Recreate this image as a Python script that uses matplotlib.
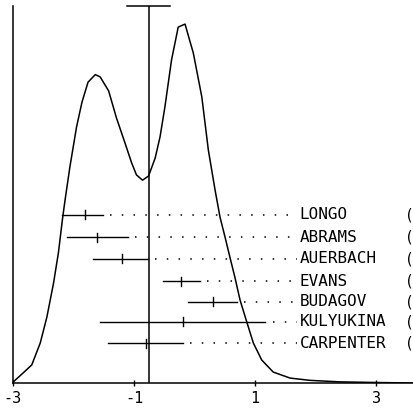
import matplotlib
matplotlib.use("Agg")
import matplotlib.pyplot as plt

# density curve
curve_x = [-2.995, -2.83, -2.69, -2.55, -2.44, -2.33, -2.25, -2.18, -2.14, -2.06, -1.95,
           -1.86, -1.76, -1.64, -1.56, -1.42, -1.29, -1.15, -1.04, -0.96, -0.86, -0.76,
           -0.65, -0.57, -0.49, -0.38, -0.27, -0.157, -0.02, 0.12, 0.228, 0.339, 0.421,
           0.504, 0.587, 0.669, 0.752, 0.863, 0.972, 1.11, 1.30, 1.58, 1.91, 2.40, 3.0, 3.61]
curve_y = [0.003, 0.027, 0.048, 0.106, 0.175, 0.265, 0.345, 0.438, 0.485, 0.573, 0.679,
           0.745, 0.798, 0.818, 0.812, 0.775, 0.703, 0.637, 0.584, 0.552, 0.538, 0.549,
           0.597, 0.653, 0.732, 0.857, 0.944, 0.952, 0.875, 0.759, 0.618, 0.512, 0.440,
           0.387, 0.332, 0.279, 0.220, 0.162, 0.106, 0.061, 0.029, 0.013, 0.007, 0.003,
           0.0013, 0.0]

studies = ["LONGO", "ABRAMS", "AUERBACH", "EVANS", "BUDAGOV", "KULYUKINA", "CARPENTER"]
est = [-1.81, -1.61, -1.20, -0.22, 0.31, -0.19, -0.80]
lo = [-2.19, -2.11, -1.68, -0.52, -0.11, -1.56, -1.43]
hi = [-1.51, -1.10, -0.77, 0.09, 0.70, 1.17, -0.19]
row_y = [0.446, 0.387, 0.329, 0.27, 0.215, 0.162, 0.106]

ref_x = -0.75
ref_lo, ref_hi = -1.12, -0.40

xticks = [-3, -1, 1, 3]

fig = plt.figure(figsize=(4.13, 4.09), dpi=100)
ax = fig.add_axes([13/413, 26/409, 1 - 13/413, (383 - 6)/409])
ax.set_xlim(-3, 3.61)
ax.set_ylim(0, 1)

ax.plot(curve_x, curve_y, color="black", lw=1.1)
ax.plot([ref_x, ref_x], [0, 1], color="black", lw=1.1)
ax.plot([ref_lo, ref_hi], [1, 1], color="black", lw=1.1, clip_on=False)

label_x = 1.74
for name, e, l, h, y in zip(studies, est, lo, hi, row_y):
    ax.plot([l, h], [y, y], color="black", lw=1.0)
    ax.plot([e, e], [y - 0.012, y + 0.012], color="black", lw=1.0)
    ax.plot([h + 0.12, label_x - 0.05], [y, y], color="black", lw=1.1,
            linestyle=(0, (1, 6.7)))
    ax.text(label_x, y, name, family="DejaVu Sans Mono", fontsize=11.5,
            va="center", ha="left")
    ax.text(3.47, y, "(", family="DejaVu Sans Mono", fontsize=10.5,
            va="center", ha="left", clip_on=False)

for s in ["top", "right"]:
    ax.spines[s].set_visible(False)
ax.spines["left"].set_linewidth(1.1)
ax.spines["bottom"].set_linewidth(1.1)
ax.set_yticks([])
ax.set_xticks(xticks)
ax.set_xticklabels(["-3", "-1", "1", "3"], family="DejaVu Sans Mono", fontsize=11)
ax.tick_params(axis="x", direction="inout", length=5, width=1, pad=3)

fig.savefig("out.png", dpi=100)
